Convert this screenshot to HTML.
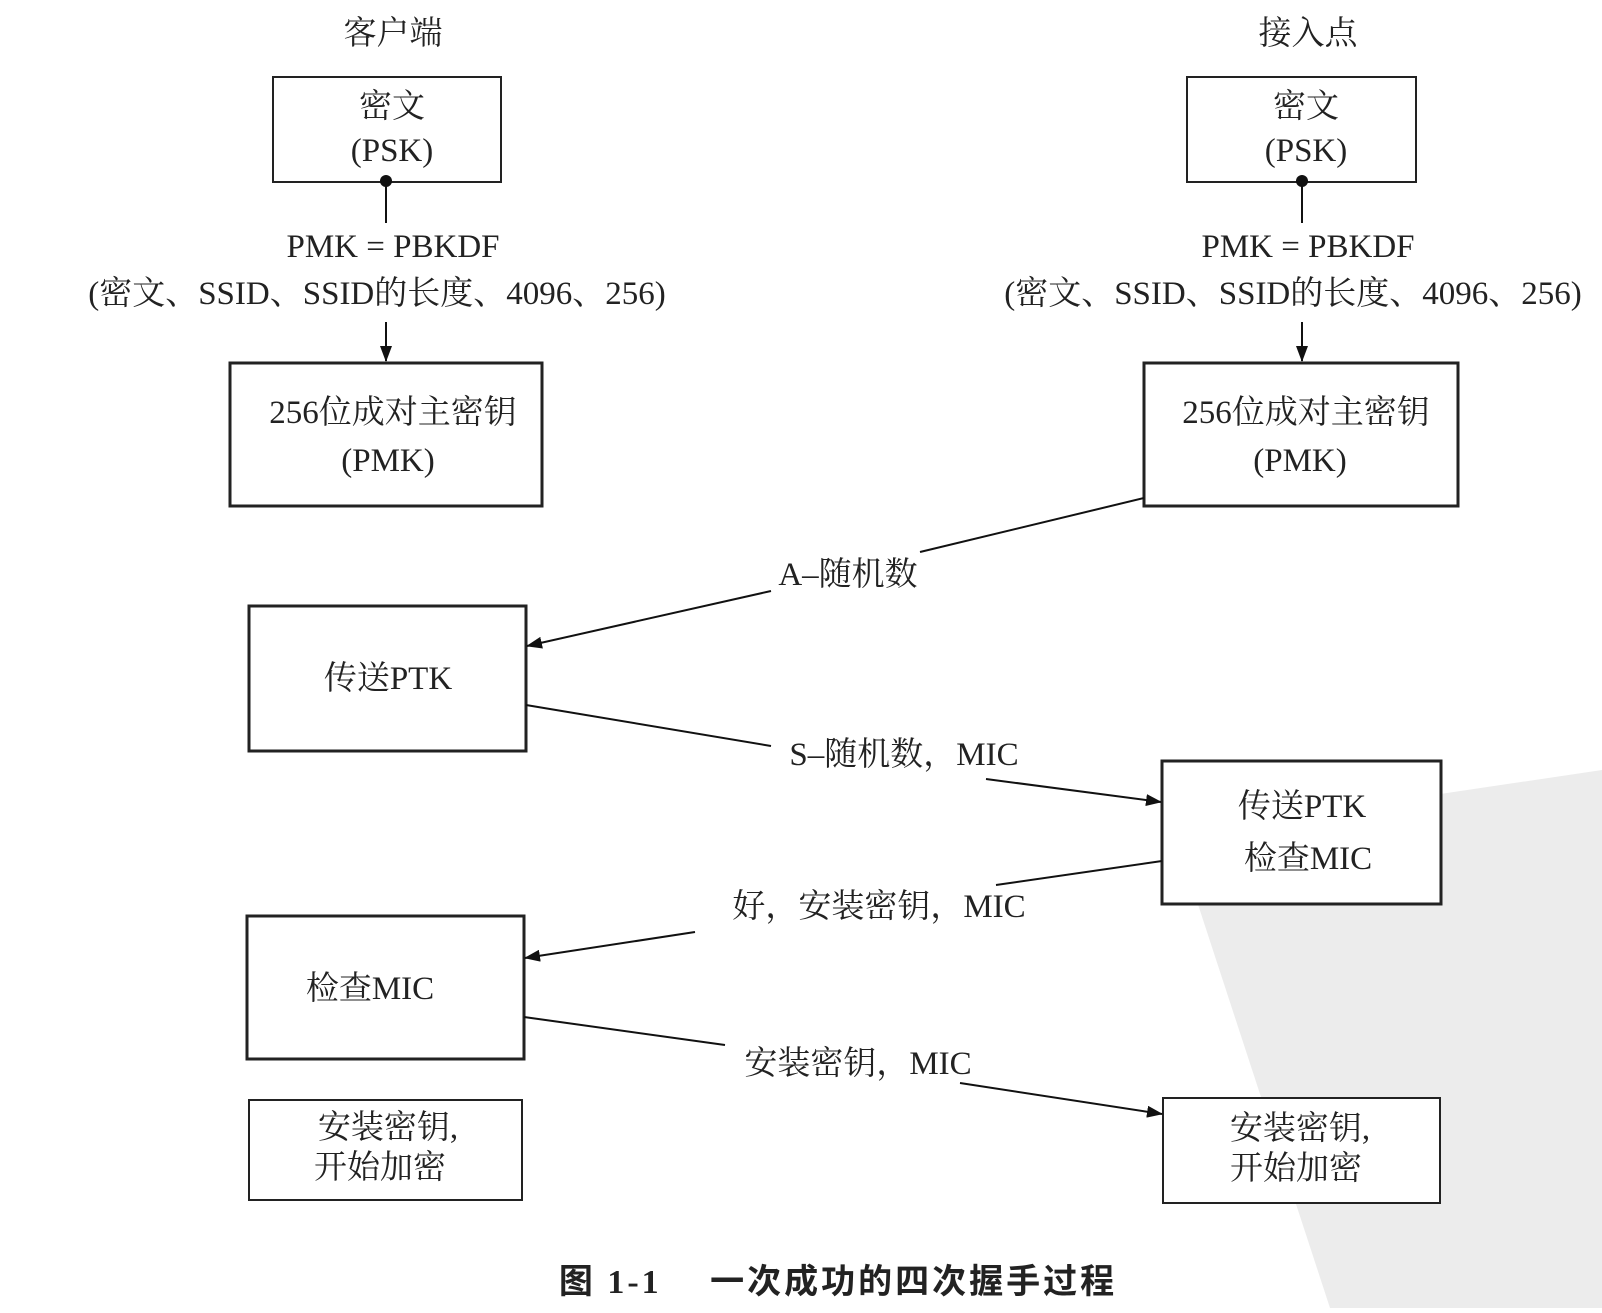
<!DOCTYPE html>
<html><head><meta charset="utf-8"><style>
html,body{margin:0;padding:0;background:#fff}
text{font-family:"Liberation Serif","Noto Serif CJK SC",serif;fill:#222}
</style></head><body>
<svg width="1602" height="1308" viewBox="0 0 1602 1308" xmlns="http://www.w3.org/2000/svg">
<defs><marker id="a" markerWidth="16" markerHeight="12" refX="15" refY="6" orient="auto" markerUnits="userSpaceOnUse"><path d="M0,0 L16,6 L0,12 Z" fill="#111"/></marker></defs>
<polygon points="1190,880 1400,800 1602,770 1602,1308 1330,1308" fill="#ececec"/>
<g font-size="33" text-anchor="middle">
<text x="393" y="44">客户端</text>
<text x="1308" y="44">接入点</text>
</g>
<g fill="#fff" stroke="#222">
<rect x="273" y="77" width="228" height="105" stroke-width="2"/>
<rect x="1187" y="77" width="229" height="105" stroke-width="2"/>
<rect x="230" y="363" width="312" height="143" stroke-width="3"/>
<rect x="1144" y="363" width="314" height="143" stroke-width="3"/>
<rect x="249" y="606" width="277" height="145" stroke-width="3"/>
<rect x="1162" y="761" width="279" height="143" stroke-width="3"/>
<rect x="247" y="916" width="277" height="143" stroke-width="3"/>
<rect x="249" y="1100" width="273" height="100" stroke-width="2"/>
<rect x="1163" y="1098" width="277" height="105" stroke-width="2"/>
</g>
<g font-size="33" text-anchor="middle">
<text x="392" y="117">密文</text><text x="392" y="161">(PSK)</text>
<text x="1306" y="117">密文</text><text x="1306" y="161">(PSK)</text>
<text x="393" y="257">PMK = PBKDF</text>
<text x="377" y="304">(密文、SSID、SSID的长度、4096、256)</text>
<text x="1308" y="257">PMK = PBKDF</text>
<text x="1293" y="304">(密文、SSID、SSID的长度、4096、256)</text>
<text x="393" y="423">256位成对主密钥</text><text x="388" y="471">(PMK)</text>
<text x="1306" y="423">256位成对主密钥</text><text x="1300" y="471">(PMK)</text>
<text x="388" y="689">传送PTK</text>
<text x="1302" y="817">传送PTK</text><text x="1308" y="869">检查MIC</text>
<text x="370" y="999">检查MIC</text>
<text x="388" y="1138">安装密钥,</text><text x="380" y="1178">开始加密</text>
<text x="1300" y="1139">安装密钥,</text><text x="1296" y="1179">开始加密</text>
<text x="848" y="585">A–随机数</text>
<text x="904" y="765">S–随机数，MIC</text>
<text x="879" y="917">好，安装密钥，MIC</text>
<text x="858" y="1074">安装密钥，MIC</text>
<text x="838" y="1293" font-weight="bold" font-size="34" letter-spacing="3" style="font-family:'Liberation Serif','Noto Sans CJK SC',sans-serif">图 1-1　 一次成功的四次握手过程</text>
</g>
<g stroke="#111" stroke-width="2" fill="none">
<line x1="386" y1="181" x2="386" y2="223"/>
<line x1="1302" y1="181" x2="1302" y2="223"/>
<line x1="386" y1="322" x2="386" y2="361" marker-end="url(#a)"/>
<line x1="1302" y1="322" x2="1302" y2="361" marker-end="url(#a)"/>
<line x1="1144" y1="498" x2="920" y2="552"/>
<line x1="771" y1="591" x2="527" y2="646" marker-end="url(#a)"/>
<line x1="526" y1="705" x2="771" y2="746"/>
<line x1="986" y1="779" x2="1161" y2="802" marker-end="url(#a)"/>
<line x1="1162" y1="861" x2="996" y2="885"/>
<line x1="695" y1="932" x2="525" y2="958" marker-end="url(#a)"/>
<line x1="524" y1="1017" x2="725" y2="1045"/>
<line x1="960" y1="1083" x2="1162" y2="1114" marker-end="url(#a)"/>
</g>
<circle cx="386" cy="181" r="6" fill="#111"/>
<circle cx="1302" cy="181" r="6" fill="#111"/>
</svg>
</body></html>
